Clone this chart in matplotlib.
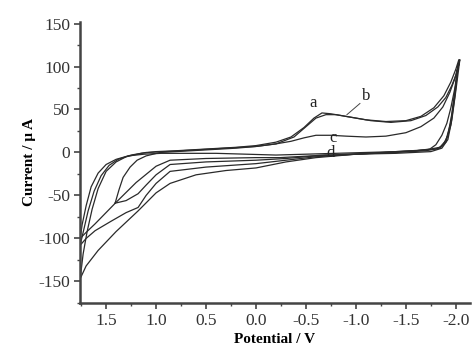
import numpy as np
import matplotlib.pyplot as plt

plt.rcParams['font.family'] = ['Liberation Serif', 'DejaVu Serif']
plt.rcParams['axes.unicode_minus'] = False

# curve a
a_up_x = [1.76, 1.73, 1.69, 1.64, 1.58, 1.5, 1.4, 1.3, 1.15, 1.0, 0.8, 0.5, 0.2, 0.0, -0.2, -0.35, -0.48, -0.58, -0.66, -0.75, -0.9, -1.1, -1.3, -1.5, -1.65, -1.78, -1.88, -1.95, -2.0, -2.03]
a_up_y = [-147, -118, -92, -66, -42, -22, -11, -5, -1, 1, 2, 4, 6, 8, 12, 18, 29, 40, 46, 45, 42, 38, 36, 37, 42, 52, 66, 82, 97, 108]
a_lo_x = [-2.03, -2.0, -1.96, -1.92, -1.87, -1.8, -1.6, -1.3, -1.0, -0.6, -0.3, 0.0, 0.3, 0.6, 0.86, 1.0, 1.18, 1.4, 1.58, 1.7, 1.76]
a_lo_y = [108, 80, 45, 20, 8, 4, 2, 0, -2, -6, -11, -18, -21, -26, -36, -47, -68, -92, -114, -132, -147]

# curve b
b_up_x = [1.76, 1.72, 1.68, 1.62, 1.55, 1.47, 1.38, 1.25, 1.1, 0.9, 0.6, 0.3, 0.0, -0.2, -0.38, -0.5, -0.6, -0.7, -0.8, -0.95, -1.15, -1.35, -1.55, -1.7, -1.82, -1.9, -1.96, -2.0, -2.02]
b_up_y = [-108, -88, -68, -45, -27, -15, -8, -3, 0, 1, 3, 5, 7, 10, 18, 30, 40, 44, 44, 41, 37, 35, 37, 43, 53, 64, 78, 90, 100]
b_lo_x = [-2.02, -1.99, -1.95, -1.9, -1.84, -1.7, -1.4, -1.0, -0.6, -0.3, 0.0, 0.5, 0.86, 1.0, 1.1, 1.18, 1.3, 1.45, 1.61, 1.7, 1.76]
b_lo_y = [100, 70, 35, 14, 6, 3, 1, -2, -5, -9, -13, -17, -22, -36, -50, -64, -70, -80, -91, -100, -108]

# curve c (switches at 1.41 V)
c_up_x = [1.41, 1.37, 1.33, 1.26, 1.19, 1.1, 0.96, 0.8, 0.5, 0.2, 0.0, -0.2, -0.35, -0.48, -0.6, -0.75, -0.9, -1.1, -1.3, -1.5, -1.65, -1.78, -1.87, -1.94, -1.99, -2.02]
c_up_y = [-59, -43, -29, -17, -9, -4, 0, 1, 3, 5, 7, 10, 13, 17, 20, 20, 19, 18, 19, 23, 30, 40, 53, 70, 86, 98]
c_lo_x = [-2.02, -1.99, -1.95, -1.9, -1.84, -1.7, -1.4, -1.0, -0.6, -0.3, 0.0, 0.5, 0.86, 1.0, 1.1, 1.18, 1.3, 1.41]
c_lo_y = [98, 65, 32, 12, 5, 2, 0, -2, -4, -7, -9, -11, -14, -26, -38, -48, -56, -59]

# curve d
d_up_x = [1.76, 1.74, 1.7, 1.65, 1.58, 1.5, 1.4, 1.28, 1.12, 0.95, 0.7, 0.4, 0.1, -0.2, -0.5, -0.8, -1.1, -1.4, -1.6, -1.74, -1.8, -1.86, -1.91, -1.95, -1.99, -2.02, -2.04]
d_up_y = [-100, -84, -62, -40, -24, -14, -8, -4, -2, -1, -1, -1, -2, -3, -2, -1, 0, 1, 2, 4, 9, 20, 34, 52, 75, 98, 108]
d_lo_x = [-2.04, -2.0, -1.96, -1.92, -1.86, -1.75, -1.4, -1.0, -0.7, -0.24, 0.0, 0.5, 0.86, 1.0, 1.2, 1.4, 1.61, 1.7, 1.76]
d_lo_y = [108, 72, 38, 15, 5, 1, -1, -2, -3, -6, -6, -7, -9, -16, -35, -58, -83, -93, -100]

curves = [(a_up_x + a_lo_x, a_up_y + a_lo_y),
          (b_up_x + b_lo_x, b_up_y + b_lo_y),
          (c_up_x + c_lo_x, c_up_y + c_lo_y),
          (d_up_x + d_lo_x, d_up_y + d_lo_y)]

fig = plt.figure(figsize=(4.77, 3.58), dpi=100)
ax = fig.add_axes([0.168, 0.154, 0.817, 0.785])

for x, y in curves:
    ax.plot(x, y, color='#2a2a2a', lw=0.9)

# curve labels
ax.text(-0.57, 57, 'a', fontsize=12, ha='center', va='center', color='#222')
ax.text(-1.10, 66, 'b', fontsize=12, ha='center', va='center', color='#222')
ax.plot([-1.04, -0.91], [57, 44], color='#444', lw=0.7)
ax.text(-0.77, 17, 'c', fontsize=12, ha='center', va='center', color='#222')
ax.text(-0.75, -1, 'd', fontsize=12, ha='center', va='center', color='#222')

ax.set_xlim(1.76, -2.14)
ax.set_ylim(-175, 152)
ax.set_xticks([1.5, 1.0, 0.5, 0.0, -0.5, -1.0, -1.5, -2.0])
ax.set_xticklabels(['1.5', '1.0', '0.5', '0.0', '-0.5', '-1.0', '-1.5', '-2.0'])
ax.set_xticks(np.arange(1.75, -2.2, -0.25), minor=True)
ax.set_yticks([-150, -100, -50, 0, 50, 100, 150])
ax.set_yticklabels(['-150', '-100', '-50', '0', '50', '100', '150'])
ax.set_yticks(np.arange(-175, 151, 25), minor=True)

for s in ['top', 'right']:
    ax.spines[s].set_visible(False)
for s in ['left', 'bottom']:
    ax.spines[s].set_linewidth(1.8)
    ax.spines[s].set_color('#444')

ax.tick_params(which='major', direction='out', length=4, width=1.2, color='#444',
               labelsize=12.5, labelcolor='#333', pad=3)
ax.tick_params(which='minor', direction='out', length=2.5, width=1.0, color='#444')

ax.set_xlabel('Potential / V', fontsize=11, fontweight='bold', labelpad=3)
ax.set_ylabel('Current / μ A', fontsize=11, fontweight='bold', labelpad=2)

fig.savefig('out.png', dpi=100)
